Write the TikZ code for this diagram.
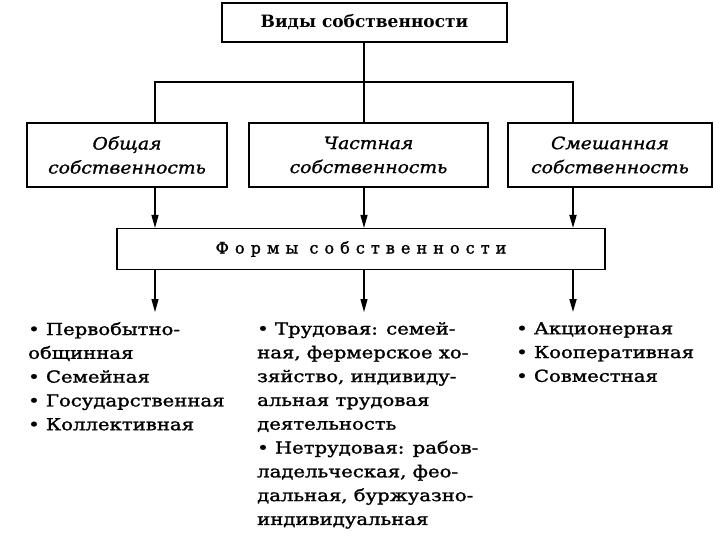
\documentclass[tikz,border=0pt]{standalone}
\usepackage{fontspec}
\setmainfont{DejaVu Serif}
\newfontfamily\spacedfont[LetterSpace=38,FakeBold=1.5]{DejaVu Serif}
\newfontfamily\listfont[FakeStretch=1.19,FakeBold=1.5]{DejaVu Serif}
\newfontfamily\boxfont[FakeStretch=1.1,FakeBold=1.2]{DejaVu Serif}
\usetikzlibrary{arrows.meta}
\begin{document}
\begin{tikzpicture}[x=1pt,y=-1pt,
  box/.style={draw,line width=1.1pt,inner sep=0pt,align=center},
  conn/.style={line width=1.1pt},
  arr/.style={line width=1.1pt,-{Triangle[length=13pt,width=7pt]}},
  thick arr/.style={arr,line width=1.8pt},
  col/.style={anchor=north west,inner sep=0pt,align=left,font=\listfont\fontsize{16.5}{23.8}\selectfont}
]
\useasboundingbox (0,0) rectangle (720,540);
% top
\node[box,minimum width=285pt,minimum height=39pt,font=\bfseries\fontsize{17}{20}\selectfont] (top) at (364.5,22.5) {Виды собственности};
% middle boxes
\node[box,minimum width=200pt,minimum height=64pt,font=\boxfont\itshape\fontsize{17}{24}\selectfont] (b1) at (127,155) {Общая\\собственность};
\node[box,minimum width=239pt,minimum height=64pt,font=\boxfont\itshape\fontsize{17}{24}\selectfont] (b2) at (368.5,155) {Частная\\собственность};
\node[box,minimum width=204pt,minimum height=64pt,font=\boxfont\itshape\fontsize{17}{24}\selectfont] (b3) at (610,155) {Смешанная\\собственность};
% forms
\node[box,minimum width=488pt,minimum height=41pt,font=\spacedfont\fontsize{16}{20}\selectfont] (forms) at (361,249) {Формы собственности};
% connector x positions
\coordinate (c1) at (155,82);
\coordinate (c2) at (364,82);
\coordinate (c3) at (573,82);
\draw[conn] (top.south -| c2) -- (c2);
\draw[conn] (b1.north -| c1) -- (c1) -- (c3) -- (b3.north -| c3);
\draw[conn] (c2) -- (b2.north -| c2);
\draw[arr] (b1.south -| c1) -- (forms.north -| c1);
\draw[arr] (b2.south -| c2) -- (forms.north -| c2);
\draw[thick arr] (b3.south -| c3) -- (forms.north -| c3);
% lists
\coordinate (e1) at (155,312);
\coordinate (e2) at (364,312);
\coordinate (e3) at (573,312);
\draw[arr] (forms.south -| c1) -- (e1);
\draw[arr] (forms.south -| c2) -- (e2);
\draw[thick arr] (forms.south -| c3) -- (e3);
\node[col] (l1) at (28,322) {• Первобытно-\\общинная\\• Семейная\\• Государственная\\• Коллективная};
\node[col] (l2) at (257,322) {• Трудовая: семей-\\ная, фермерское хо-\\зяйство, индивиду-\\альная трудовая\\деятельность\\• Нетрудовая: рабов-\\ладельческая, фео-\\дальная, буржуазно-\\индивидуальная};
\node[col] (l3) at (516,322) {• Акционерная\\• Кооперативная\\• Совместная};
\end{tikzpicture}
\end{document}
